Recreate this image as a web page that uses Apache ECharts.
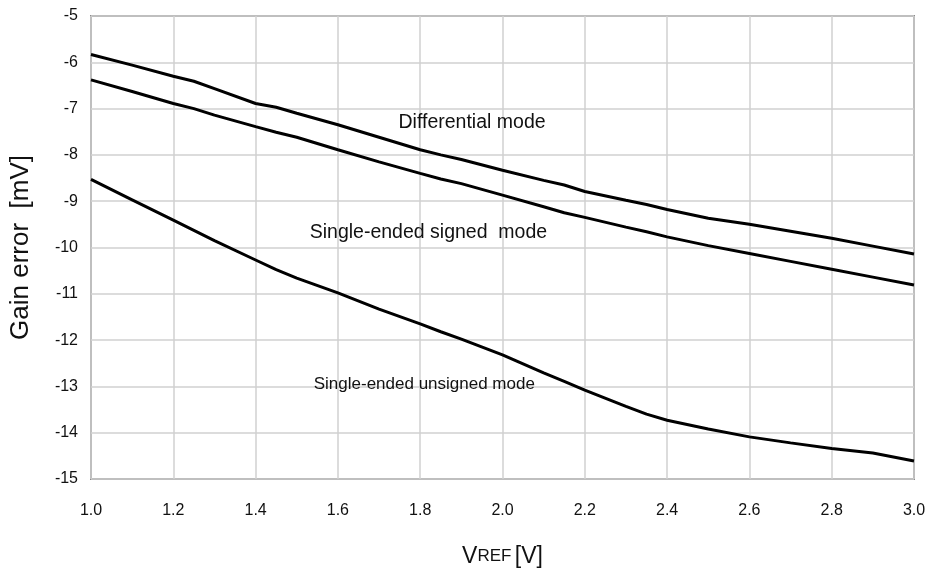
<!DOCTYPE html>
<html><head><meta charset="utf-8">
<script src="https://cdn.jsdelivr.net/npm/echarts@6/dist/echarts.min.js"></script>
<style>html,body{margin:0;padding:0;background:#fff}#c{width:929px;height:577px}</style>
</head><body><div id="c"></div>
<script>
const vref = [1.0,1.1,1.2,1.25,1.3,1.4,1.45,1.5,1.6,1.7,1.8,1.85,1.9,2.0,2.1,2.15,2.2,2.3,2.35,2.4,2.5,2.6,2.7,2.8,2.9,3.0];
const differential = [-5.83,-6.06,-6.30,-6.41,-6.57,-6.89,-6.97,-7.10,-7.35,-7.62,-7.89,-8.00,-8.10,-8.33,-8.55,-8.65,-8.79,-8.98,-9.07,-9.18,-9.37,-9.50,-9.65,-9.80,-9.97,-10.14];
const signedSE = [-6.38,-6.63,-6.89,-7.00,-7.14,-7.39,-7.51,-7.62,-7.89,-8.15,-8.40,-8.52,-8.62,-8.87,-9.12,-9.25,-9.35,-9.56,-9.66,-9.77,-9.96,-10.13,-10.30,-10.47,-10.64,-10.81];
const unsignedSE = [-8.53,-8.97,-9.41,-9.63,-9.85,-10.27,-10.48,-10.66,-10.98,-11.33,-11.65,-11.82,-11.98,-12.32,-12.71,-12.89,-13.08,-13.43,-13.60,-13.73,-13.92,-14.09,-14.22,-14.34,-14.44,-14.61];
const labels = ['Differential mode','Single-ended signed  mode','Single-ended unsigned mode'];
const labelAt = [[1.926,-7.31],[1.82,-9.67],[1.81,-12.95]];
const labelSize = [19.5,19.5,17];

const chart = echarts.init(document.getElementById('c'));
const pair = ys => vref.map((x,i)=>[x,ys[i]]);
const FONT = '"Liberation Sans", Arial, sans-serif';
chart.setOption({
  animation:false,
  grid:{left:91,right:15,top:16,bottom:98,outerBoundsMode:'none',containLabel:false,show:true,borderColor:'#8c8c8c',borderWidth:2,backgroundColor:'transparent'},
  xAxis:{type:'value',min:1,max:3,interval:0.2,
    axisLine:{show:false},axisTick:{show:false},
    splitLine:{show:true,lineStyle:{color:'#d0d0d0',width:1.5}},
    axisLabel:{margin:24,fontSize:16,color:'#111',fontFamily:FONT,formatter:v=>v.toFixed(1)},
    name:'{a|V}{b|REF} {a|[V]}',nameLocation:'middle',nameGap:66,
    nameTextStyle:{rich:{a:{fontSize:23,fontFamily:FONT,color:'#111'},b:{fontSize:17,fontFamily:FONT,color:'#111'}}}},
  yAxis:{type:'value',min:-15,max:-5,interval:1,
    axisLine:{show:false},axisTick:{show:false},
    splitLine:{show:true,lineStyle:{color:'#d0d0d0',width:1.5}},
    axisLabel:{margin:13,fontSize:16,color:'#111',fontFamily:FONT},
    name:'Gain error  [mV]',nameLocation:'middle',nameGap:57,
    nameTextStyle:{fontSize:26,fontFamily:FONT,color:'#111'}},
  series:[differential,signedSE,unsignedSE].map(ys=>({type:'line',data:pair(ys),symbol:'none',
    lineStyle:{color:'#000',width:3},z:3}))
});
const g = labels.map((t,i)=>{
  const p = chart.convertToPixel({gridIndex:0},labelAt[i]);
  return {type:'text',x:p[0],y:p[1],style:{text:t,fontSize:labelSize[i],fontFamily:FONT,fill:'#111',align:'center',verticalAlign:'middle'},z:10};
});
chart.setOption({graphic:g});
</script></body></html>
